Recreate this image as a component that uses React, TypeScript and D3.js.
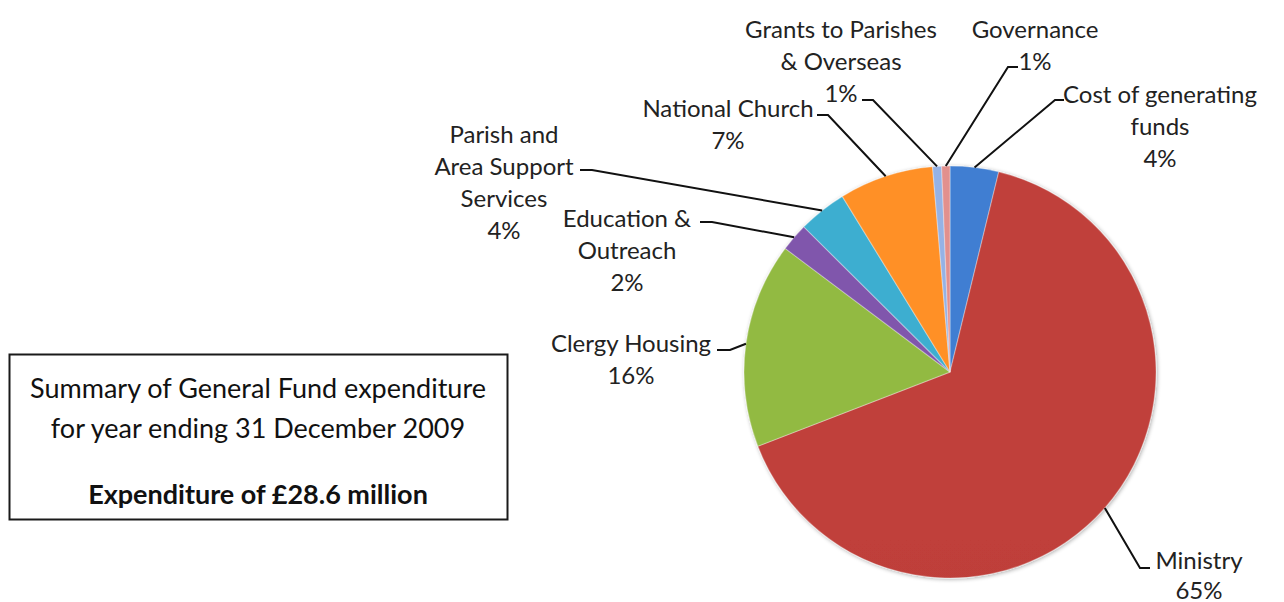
import React from "react";
import * as d3 from "d3";

const categories = [
  "Cost of generating funds",
  "Ministry",
  "Clergy Housing",
  "Education & Outreach",
  "Parish and Area Support Services",
  "National Church",
  "Grants to Parishes & Overseas",
  "Governance",
];
const shares = [3.8, 65.3, 16.1, 2.2, 3.8, 7.4, 0.7, 0.65];
const labelLines = [
  ["Cost of generating", "funds"],
  ["Ministry"],
  ["Clergy Housing"],
  ["Education &", "Outreach"],
  ["Parish and", "Area Support", "Services"],
  ["National Church"],
  ["Grants to Parishes", "& Overseas"],
  ["Governance"],
];
const colors = ["#3c79c9", "#b83c38", "#8cb23f", "#7b52a5", "#3aa7c7", "#f48a25", "#8fabdb", "#d98a87"];
const boxLines = ["Summary of General Fund expenditure", "for year ending 31 December 2009"];
const boxBold = "Expenditure of £28.6 million";

// label layout (centre x, first row centre y, elbow point, line end)
const layout = [
  { cx: 1160, y: 93, elbow: [1055, 100], end: [1064, 100] },
  { cx: 1199, y: 559, elbow: [1140, 568], end: [1150, 568] },
  { cx: 631, y: 342, elbow: [730, 350], end: [717, 350] },
  { cx: 627, y: 217, elbow: [712, 222], end: [700, 222] },
  { cx: 504, y: 133, elbow: [592, 170], end: [580, 170] },
  { cx: 728, y: 107, elbow: [828, 115], end: [817, 115] },
  { cx: 841, y: 28, elbow: [873, 100], end: [862, 100] },
  { cx: 1035, y: 28, elbow: [1008, 67], end: [1018, 67] },
];

const W = 1284;
const H = 602;
const CX = 950;
const CY = 372;
const R = 206;
const FONT = "Lato, 'Open Sans', sans-serif";

export default function App() {
  const total = d3.sum(shares);
  const pie = d3.pie<number>().sort(null).value((d) => d)(shares);
  const arc = d3.arc<d3.PieArcDatum<number>>().innerRadius(0).outerRadius(R);
  const rowH = 32;

  return (
    <div style={{ position: "absolute", left: 0, top: 0, width: W, height: H, background: "#fff" }}>
      <svg width={W} height={H} style={{ display: "block" }} fontFamily={FONT}>
        <defs>
          {colors.map((c, i) => {
            const col = d3.color(c)!;
            return (
              <linearGradient key={i} id={`g${i}`} gradientUnits="userSpaceOnUse" x1={0} y1={CY - R} x2={0} y2={CY + R}>
                <stop offset="0%" stopColor={col.brighter(0.12).formatHex()} />
                <stop offset="50%" stopColor={c} />
                <stop offset="100%" stopColor={col.darker(0.45).formatHex()} />
              </linearGradient>
            );
          })}
          <filter id="shadow" x="-20%" y="-20%" width="140%" height="140%">
            <feGaussianBlur in="SourceAlpha" stdDeviation="2" />
            <feOffset dx="1" dy="1" result="b" />
            <feComponentTransfer>
              <feFuncA type="linear" slope="0.35" />
            </feComponentTransfer>
            <feMerge>
              <feMergeNode />
              <feMergeNode in="SourceGraphic" />
            </feMerge>
          </filter>
        </defs>

        <g transform={`translate(${CX},${CY})`} filter="url(#shadow)">
          {pie.map((p, i) => (
            <path key={categories[i]} d={arc(p)!} fill={`url(#g${i})`} stroke="rgba(255,255,255,0.3)" strokeWidth={1.2} />
          ))}
        </g>

        {pie.map((p, i) => {
          const L = layout[i];
          const a = (p.startAngle + p.endAngle) / 2;
          const sx = CX + R * Math.sin(a);
          const sy = CY - R * Math.cos(a);
          const pct = `${Math.round((shares[i] / total) * 100)}%`;
          const lines = [...labelLines[i], pct];
          return (
            <g key={`l${i}`}>
              <polyline
                points={`${sx},${sy} ${L.elbow[0]},${L.elbow[1]} ${L.end[0]},${L.end[1]}`}
                fill="none"
                stroke="#111"
                strokeWidth={2}
              />
              {lines.map((t, j) => (
                <text key={j} x={L.cx} y={L.y + j * (i === 1 ? 30 : rowH)} textAnchor="middle" dominantBaseline="central" fontSize={24} fill="#222">
                  {t}
                </text>
              ))}
            </g>
          );
        })}

        <rect x={9.5} y={354.5} width={498} height={165} fill="#fff" stroke="#1a1a1a" strokeWidth={2} />
        {boxLines.map((t, j) => (
          <text key={j} x={258} y={387 + j * 40} textAnchor="middle" dominantBaseline="central" fontSize={27} fill="#111">
            {t}
          </text>
        ))}
        <text x={258} y={493} textAnchor="middle" dominantBaseline="central" fontSize={27} fontWeight="bold" fill="#111">
          {boxBold}
        </text>
      </svg>
    </div>
  );
}
